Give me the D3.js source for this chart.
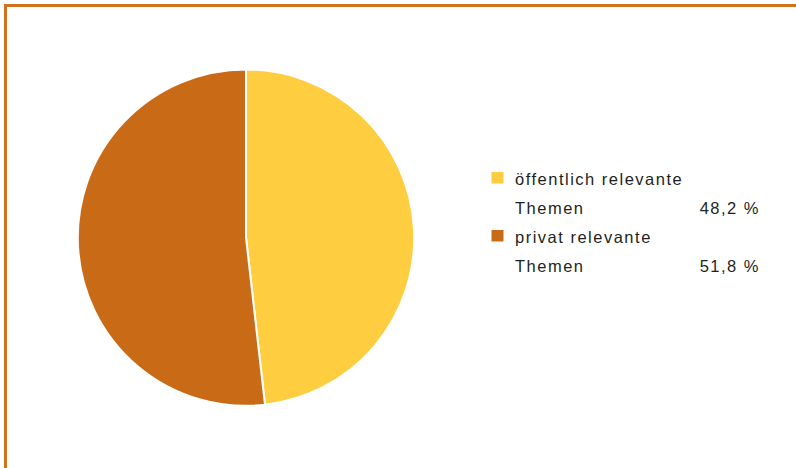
<!DOCTYPE html>
<html>
<head>
<meta charset="utf-8">
<script src="https://cdn.jsdelivr.net/npm/d3@7"></script>
<style>
  html, body { margin: 0; padding: 0; background: #fff; }
  svg { display: block; }
</style>
</head>
<body>
<svg id="chart" width="796" height="468"></svg>
<script>
// Themenanteile
const categories = ["öffentlich relevante", "privat relevante"];
const labelSecondLine = ["Themen", "Themen"];
const values = [48.2, 51.8];
const colors = ["#FFCD40", "#C96A17"];

const svg = d3.select("#chart");
const W = 796, H = 468;

// Rahmen (oben und links, läuft rechts/unten aus dem Bild)
svg.append("path")
  .attr("d", `M5.5,${H + 5} V5.5 H${W + 5}`)
  .attr("fill", "none")
  .attr("stroke", "#D2701E")
  .attr("stroke-width", 3);

// Kreisdiagramm
const cx = 246, cy = 237.6, r = 168.2;
const pie = d3.pie().sort(null).value(d => d)(values);
const arc = d3.arc().innerRadius(0).outerRadius(r);

const g = svg.append("g").attr("transform", `translate(${cx},${cy})`);
g.selectAll("path.slice")
  .data(pie)
  .join("path")
  .attr("class", "slice")
  .attr("d", arc)
  .attr("fill", (d, i) => colors[i])
  .attr("stroke", "#fff")
  .attr("stroke-width", 2)
  .attr("stroke-linejoin", "round");

// Legende
const fmt = v => d3.format(".1f")(v).replace(".", ",") + " %";
const legend = svg.append("g")
  .attr("font-family", "'Liberation Sans', Arial, sans-serif")
  .attr("font-size", 16.5)
  .attr("letter-spacing", 1.5)
  .attr("fill", "#231F20");

const rowY = [184.5, 242.5];
categories.forEach((c, i) => {
  const y = rowY[i];
  legend.append("rect")
    .attr("x", 491.5).attr("y", y - 12.5)
    .attr("width", 12).attr("height", 11.5)
    .attr("fill", colors[i]);
  legend.append("text").attr("x", 515).attr("y", y).text(c);
  legend.append("text").attr("x", 515).attr("y", y + 29).text(labelSecondLine[i]);
  legend.append("text").attr("x", 760).attr("y", y + 29)
    .attr("text-anchor", "end").text(fmt(values[i]));
});
</script>
</body>
</html>
